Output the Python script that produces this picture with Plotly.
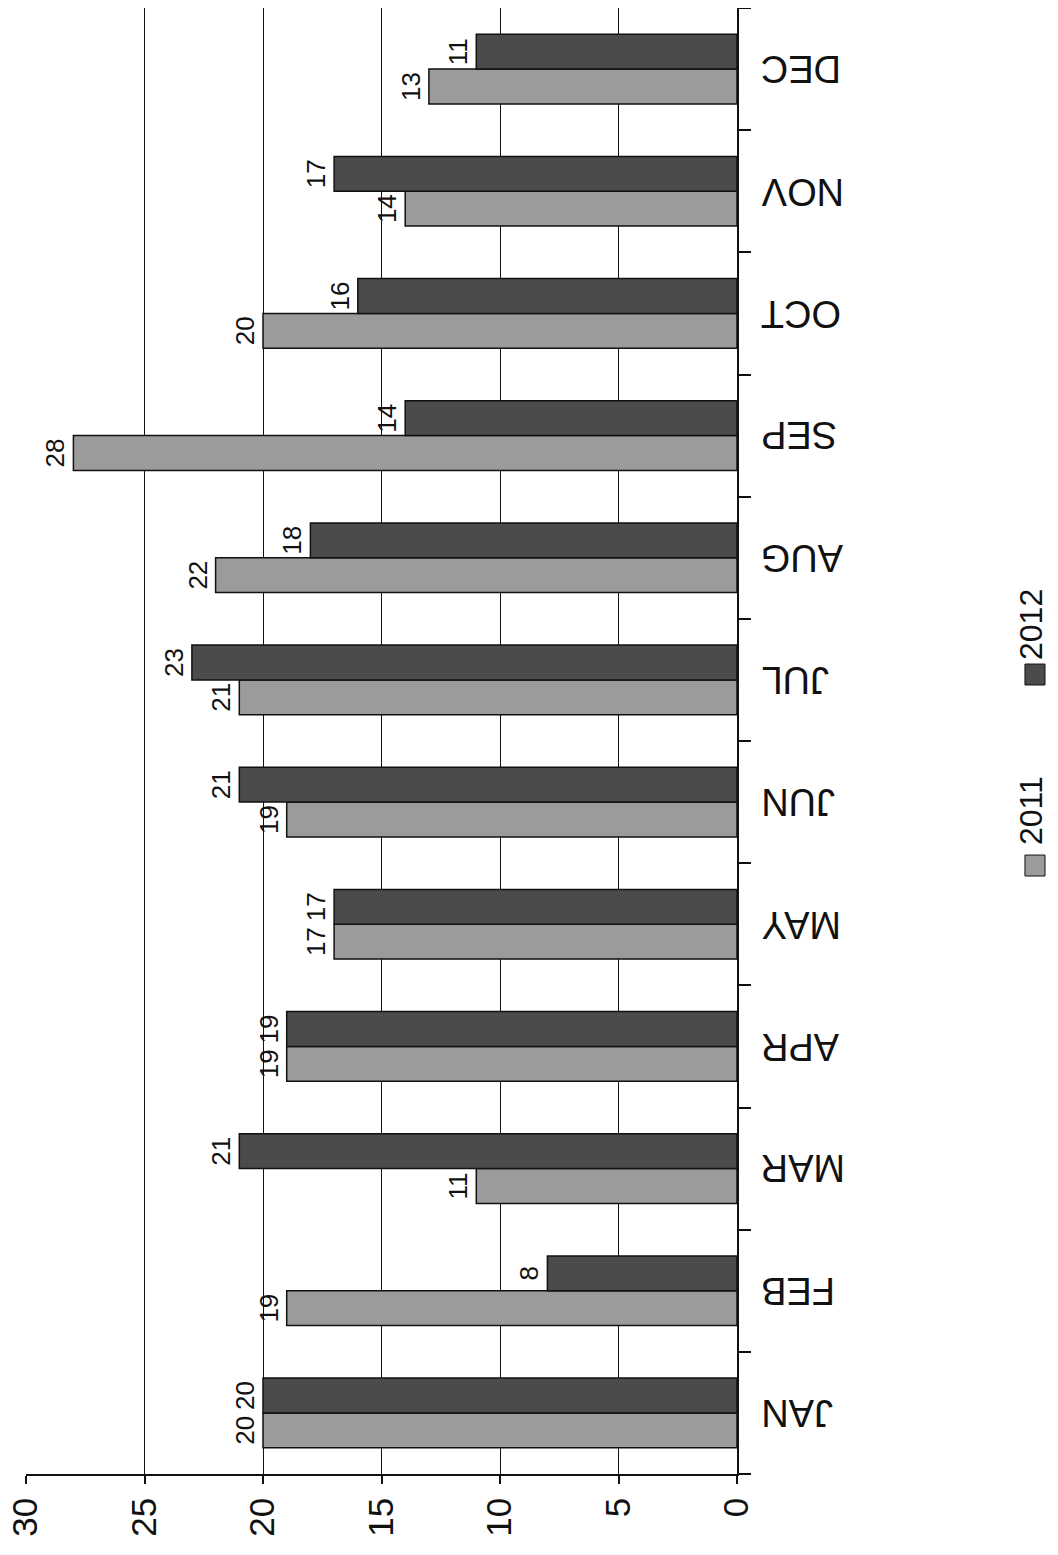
import plotly.graph_objects as go

months = ["JAN", "FEB", "MAR", "APR", "MAY", "JUN", "JUL", "AUG", "SEP", "OCT", "NOV", "DEC"]
values_2011 = [20, 19, 11, 19, 17, 19, 21, 22, 28, 20, 14, 13]
values_2012 = [20, 8, 21, 19, 17, 21, 23, 18, 14, 16, 17, 11]
series_names = ["2011", "2012"]
x_ticks = [0, 5, 10, 15, 20, 25, 30]

FONT = "Liberation Sans, Arial, sans-serif"
c2011 = "#9b9b9b"
c2012 = "#4b4b4b"

fig = go.Figure()
for name, vals, col in [(series_names[0], values_2011, c2011), (series_names[1], values_2012, c2012)]:
    fig.add_trace(go.Bar(
        y=months, x=vals, orientation="h", name=name,
        marker=dict(color=col, line=dict(color="#111111", width=1.5)),
        text=[str(v) for v in vals], textposition="outside", textangle=-90,
        textfont=dict(family=FONT, size=26, color="#111111"),
        cliponaxis=False,
    ))

fig.update_layout(
    width=1058, height=1555,
    margin=dict(l=18, r=329, t=0, b=89),
    paper_bgcolor="white", plot_bgcolor="white",
    barmode="group", bargap=0.43, bargroupgap=0,
    showlegend=False,
    font=dict(family=FONT, color="#111111"),
)
fig.update_xaxes(
    range=[30, 0], tickvals=x_ticks, ticktext=[str(t) for t in x_ticks],
    showgrid=True, gridcolor="#111111", gridwidth=1.3,
    zeroline=False, showline=True, linecolor="#111111", linewidth=1.5,
    ticks="outside", ticklen=8, tickcolor="#111111", tickwidth=1.5,
    tickangle=-90, tickfont=dict(size=35, family=FONT, color="#111111"),
    ticklabeloverflow="allow",
    automargin=False,
)
fig.update_yaxes(
    categoryorder="array", categoryarray=months, range=[-0.5, 11.5],
    side="right", showline=True, linecolor="#111111", linewidth=1.5,
    ticks="outside", tickson="boundaries", ticklen=12, tickcolor="#111111", tickwidth=1.5,
    showticklabels=False,
    showgrid=False, zeroline=False, automargin=False,
)

# Month labels, upside down (rotated 180 degrees)
for m in months:
    fig.add_annotation(xref="paper", yref="y", x=1.031, y=m, text=m,
                       xanchor="left", yanchor="middle",
                       showarrow=False, textangle=180,
                       font=dict(size=38, family=FONT, color="#111111"))

# Legend (rotated, drawn as annotations with outlined swatches)
for name, col, yc, ys in [(series_names[1], c2012, 0.5798, (0.5382, 0.5525)),
                          (series_names[0], c2011, 0.4529, (0.4079, 0.4222))]:
    fig.add_annotation(xref="paper", yref="paper", x=1.4416, y=yc, text=name,
                       showarrow=False, textangle=-90,
                       font=dict(size=32, family=FONT, color="#111111"))
    fig.add_shape(type="rect", xref="paper", yref="paper",
                  x0=1.405, x1=1.4332, y0=ys[0], y1=ys[1],
                  fillcolor=col, line=dict(color="#111111", width=1))

fig.write_html("out.html")
